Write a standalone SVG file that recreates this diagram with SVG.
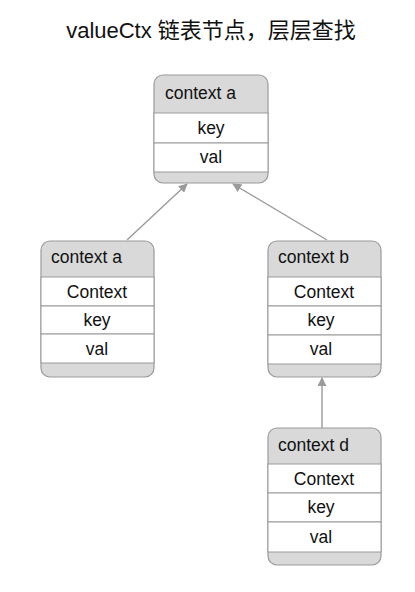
<svg xmlns="http://www.w3.org/2000/svg" width="415" height="592" viewBox="0 0 415 592">
<defs>
<style>
.box{fill:#d9d9d9;stroke:#9a9a9a;stroke-width:1.2}
.row{fill:#ffffff;stroke:#9a9a9a;stroke-width:1}
.hd{font-family:"Liberation Sans","Noto Sans",Arial,sans-serif;font-size:17.5px;fill:#111}
.tx{font-family:"Liberation Sans","Noto Sans",Arial,sans-serif;font-size:17.5px;fill:#111;text-anchor:middle}
.title{font-family:"Liberation Sans","Noto Sans CJK SC",sans-serif;font-size:22px;fill:#111;text-anchor:middle}
.conn{stroke:#9a9a9a;stroke-width:1.4;fill:none;marker-end:url(#arr)}
</style>
<marker id="arr" viewBox="0 0 10 10" refX="9" refY="5" markerWidth="9" markerHeight="9" markerUnits="userSpaceOnUse" orient="auto"><path d="M0,0 L10,5 L0,10 z" fill="#9a9a9a"/></marker>
</defs>
<rect width="415" height="592" fill="#ffffff"/>
<text class="title" x="211" y="38">valueCtx 链表节点，层层查找</text>

<g id="connectors">
<line class="conn" x1="127" y1="240" x2="187" y2="184"/>
<line class="conn" x1="327" y1="240" x2="233" y2="184"/>
<line class="conn" x1="322" y1="428" x2="322" y2="378"/>
</g>

<g id="node-top">
<rect class="box" x="154" y="75" width="114" height="108" rx="9"/>
<rect class="row" x="154" y="113" width="114" height="30"/>
<rect class="row" x="154" y="143" width="114" height="29"/>
<text class="hd" x="165" y="99">context a</text>
<text class="tx" x="211" y="134">key</text>
<text class="tx" x="211" y="163">val</text>
</g>

<g id="node-left">
<rect class="box" x="41" y="241" width="113" height="136" rx="9"/>
<rect class="row" x="41" y="277" width="113" height="29"/>
<rect class="row" x="41" y="306" width="113" height="28"/>
<rect class="row" x="41" y="334" width="113" height="29"/>
<text class="hd" x="51" y="263">context a</text>
<text class="tx" x="97" y="298">Context</text>
<text class="tx" x="97" y="326">key</text>
<text class="tx" x="97" y="355">val</text>
</g>

<g id="node-b">
<rect class="box" x="268" y="241" width="113" height="136" rx="9"/>
<rect class="row" x="268" y="277" width="113" height="29"/>
<rect class="row" x="268" y="306" width="113" height="29"/>
<rect class="row" x="268" y="335" width="113" height="29"/>
<text class="hd" x="278" y="263">context b</text>
<text class="tx" x="324" y="298">Context</text>
<text class="tx" x="321" y="326">key</text>
<text class="tx" x="321" y="355">val</text>
</g>

<g id="node-d">
<rect class="box" x="268" y="428" width="113" height="137" rx="9"/>
<rect class="row" x="268" y="464" width="113" height="29"/>
<rect class="row" x="268" y="493" width="113" height="29"/>
<rect class="row" x="268" y="522" width="113" height="30"/>
<text class="hd" x="278" y="451">context d</text>
<text class="tx" x="324" y="485">Context</text>
<text class="tx" x="321" y="513">key</text>
<text class="tx" x="321" y="543">val</text>
</g>
</svg>
